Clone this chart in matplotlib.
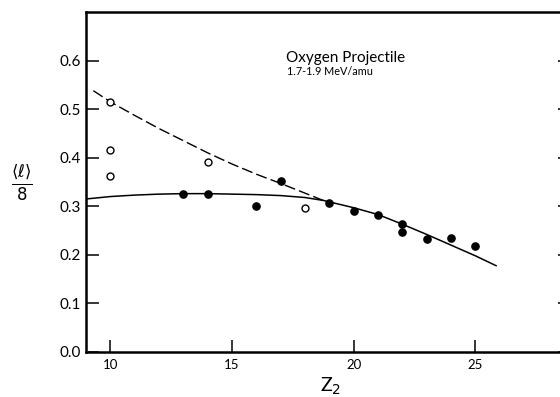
import matplotlib
matplotlib.use("Agg")
import matplotlib.pyplot as plt

plt.rcParams['font.family'] = ['Lato', 'DejaVu Sans']
plt.rcParams['mathtext.fontset'] = 'dejavusans'

# measured points, Z2 vs <l>/8
z_open = [10, 10, 10, 14, 18]
v_open = [0.515, 0.415, 0.363, 0.392, 0.297]

z_filled = [13, 14, 16, 17, 19, 20, 21, 22, 22, 23, 24, 25]
v_filled = [0.326, 0.326, 0.300, 0.353, 0.306, 0.291, 0.282, 0.263, 0.248, 0.232, 0.234, 0.219]

# dashed curve
z_dash = [9.3, 10, 11, 12, 13, 14, 15, 16, 17, 18, 18.75]
v_dash = [0.538, 0.515, 0.487, 0.460, 0.435, 0.410, 0.387, 0.366, 0.347, 0.327, 0.312]

# solid curve
z_solid = [9.0, 10, 11, 12, 13, 14, 15, 16, 17, 18, 18.75, 19, 20, 21, 22, 23, 24, 25, 25.88]
v_solid = [0.315, 0.320, 0.323, 0.325, 0.326, 0.326, 0.325, 0.324, 0.322, 0.318, 0.312,
           0.309, 0.297, 0.283, 0.263, 0.242, 0.220, 0.198, 0.177]

xticks = [10, 15, 20, 25]
yticks = [0.0, 0.1, 0.2, 0.3, 0.4, 0.5, 0.6]

fig = plt.figure(figsize=(5.6, 3.97), dpi=100)
# right edge of the frame runs just past the figure border
ax = fig.add_axes([0.1536, 0.1134, 0.8643, 0.8564])

ax.plot(z_solid, v_solid, color='black', lw=1.1, solid_capstyle='butt')
ax.plot(z_dash, v_dash, color='black', lw=1.0, dashes=(8, 3))
ax.plot(z_filled, v_filled, 'o', color='black', ms=5.2, zorder=3)
ax.plot(z_open, v_open, 'o', mfc='white', mec='black', mew=1.0, ms=5.0, zorder=3)

ax.set_xlim(9.0, 28.89)
ax.set_ylim(0.0, 0.7)
ax.set_xticks(xticks)
ax.set_xticklabels([str(t) for t in xticks])
ax.set_yticks(yticks)
ax.set_yticklabels(['%.1f' % t for t in yticks])

for s in ax.spines.values():
    s.set_linewidth(1.8)
ax.tick_params(axis='x', direction='in', length=9, width=1.1, labelsize=9.5, pad=5)
ax.tick_params(axis='y', direction='in', length=9, width=1.1, labelsize=11, pad=4,
               right=True)

ax.text(17.2, 0.598, 'Oxygen Projectile', fontsize=11, ha='left', va='baseline')
ax.text(17.25, 0.571, '1.7-1.9 MeV/amu', fontsize=7.8, ha='left', va='baseline')

fig.text(331 / 560, 1 - 386 / 397, r'Z$_2$', fontsize=14, ha='center', va='center')
fig.text(22 / 560, 1 - 183 / 397, r'$\frac{\langle\ell\rangle}{8}$', fontsize=17,
         ha='center', va='center')

fig.savefig('out.png', dpi=100)
